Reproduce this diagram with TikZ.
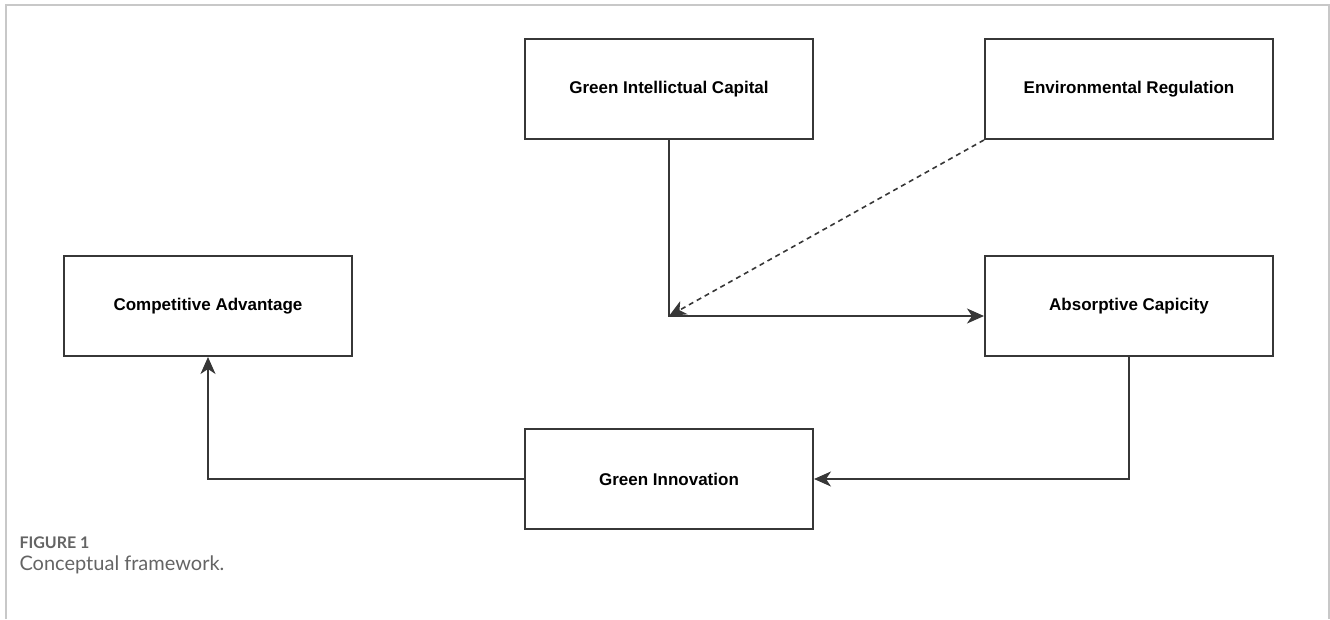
\documentclass[tikz,border=0pt]{standalone}
\usepackage{fontspec}
\setmainfont{Liberation Sans}
\newfontfamily\capfont{Lato}
\usetikzlibrary{arrows.meta,positioning}
\definecolor{framegray}{RGB}{200,200,200}
\definecolor{linegray}{RGB}{55,55,55}
\definecolor{capgray}{RGB}{100,100,100}
\begin{document}
\begin{tikzpicture}
[x=1pt, y=-1pt,
 box/.style={draw=linegray, line width=2pt, minimum width=288pt, minimum height=100pt, font=\fontsize{17}{20}\selectfont\bfseries},
 link/.style={draw=linegray, line width=1.6pt, -{Stealth[length=17pt,width=15pt,inset=5pt]}}]

\useasboundingbox (0,0) rectangle (1330,619);
\draw [framegray, line width=1.5pt] (6,619) -- (6,5) -- (1329,5) -- (1329,619);

\node [box] (gic) at (669,89) {Green Intellictual Capital};
\node [box] (er) at (1129,89) {Environmental Regulation};
\node [box] (ca) at (208,306) {Competitive Advantage};
\node [box] (ac) at (1129,306) {Absorptive Capicity};
\node [box] (gi) at (669,479) {Green Innovation};

\coordinate (jn) at (669,316);

\draw [link] (gic.south) -- (jn) -- (jn -| ac.west);
\draw [link, dashed, dash pattern=on 5pt off 4pt] (er.south west) -- (jn);
\draw [link] (ac.south) |- (gi.east);
\draw [link] (gi.west) -| (ca.south);

\node [anchor=west, text=capgray, font=\capfont\fontsize{16}{18}\selectfont\bfseries] (fig) at (16,543) {FIGURE 1};
\node [text=capgray, font=\capfont\fontsize{20}{23}\selectfont, below=0pt of fig.south west, anchor=north west] (cap) {Conceptual framework.};
\end{tikzpicture}
\end{document}
